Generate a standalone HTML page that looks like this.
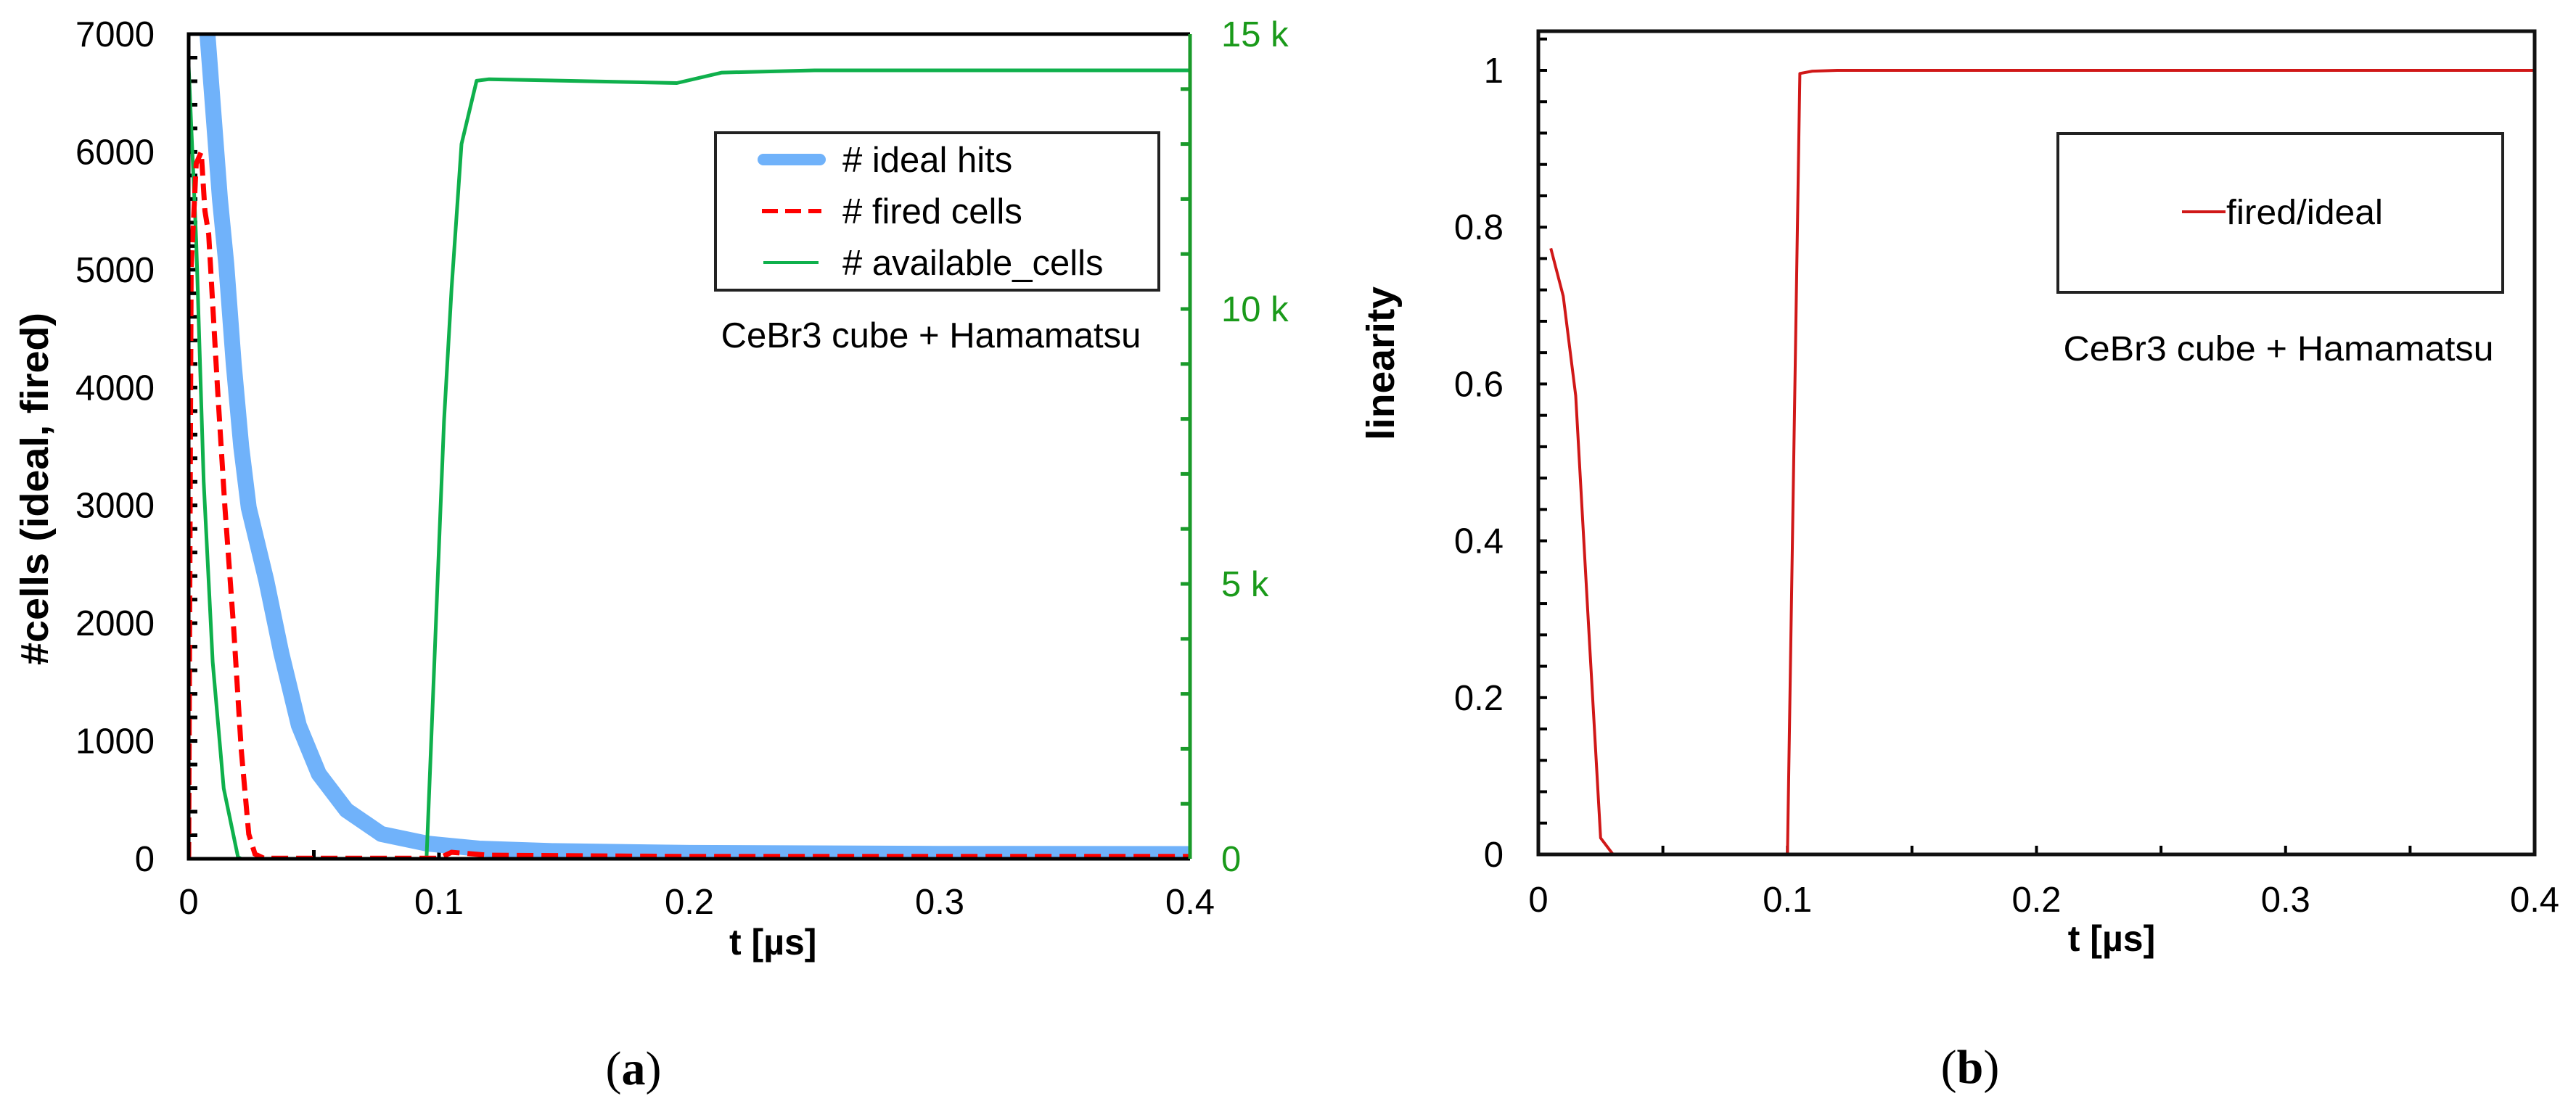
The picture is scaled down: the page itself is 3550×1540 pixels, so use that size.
<!DOCTYPE html>
<html><head><meta charset="utf-8"><style>
html,body{margin:0;padding:0;background:#fff;}
svg{display:block;font-family:"Liberation Sans",Arial,sans-serif;}
</style></head><body>
<svg id="fig" width="3550" height="1540" viewBox="0 0 3550 1540" xmlns="http://www.w3.org/2000/svg">
<defs>
<clipPath id="clipA"><rect x="260" y="47" width="1380" height="1137"/></clipPath>
<clipPath id="clipB"><rect x="2120" y="43" width="1373" height="1135"/></clipPath>
</defs>
<g id="panelA"></g>
<g id="panelB"></g>
</svg>
<script>
// ---- Panel (a) data ----
const idealT = [0, 0.005, 0.0075, 0.01, 0.0125, 0.015, 0.018, 0.021, 0.024, 0.031, 0.037, 0.044, 0.052, 0.063, 0.077, 0.095, 0.116, 0.145, 0.2, 0.3, 0.4];
const idealV = [10000, 8200, 7000, 6300, 5600, 5050, 4200, 3500, 2980, 2364, 1749, 1133, 720, 413, 210, 130, 86, 65, 50, 42, 40];
const firedT = [0, 0.001, 0.003, 0.005, 0.0065, 0.008, 0.0115, 0.0145, 0.018, 0.021, 0.024, 0.0265, 0.03, 0.1, 0.105, 0.12, 0.2, 0.4];
const firedV = [0, 5000, 5900, 6000, 5500, 5300, 4000, 2980, 1950, 930, 210, 40, 5, 5, 55, 30, 20, 20];
const availT = [0, 0.003, 0.006, 0.0096, 0.014, 0.0197, 0.021, 0.095, 0.1006, 0.102, 0.105, 0.109, 0.115, 0.12, 0.195, 0.213, 0.25, 0.4];
const availV = [14420, 11240, 6860, 3580, 1280, 30, 0, 0, 6385, 7960, 10370, 13000, 14150, 14180, 14110, 14300, 14340, 14340];
const xTicksA = [0, 0.1, 0.2, 0.3, 0.4];
const xTickLabelsA = ["0", "0.1", "0.2", "0.3", "0.4"];
const yTicksA = [0, 1000, 2000, 3000, 4000, 5000, 6000, 7000];
const yRightTicks = [0, 5000, 10000, 15000];
const yRightLabels = ["0", "5 k", "10 k", "15 k"];
const legendA = ["# ideal hits", "# fired cells", "# available_cells"];
// ---- Panel (b) data ----
const linT = [0.005, 0.01, 0.015, 0.02, 0.025, 0.03, 0.1, 0.105, 0.11, 0.12, 0.2, 0.3, 0.4];
const linV = [0.773, 0.712, 0.585, 0.3, 0.021, 0, 0, 0.996, 0.999, 1, 1, 1, 1];
const xTicksB = [0, 0.1, 0.2, 0.3, 0.4];
const xTickLabelsB = ["0", "0.1", "0.2", "0.3", "0.4"];
const yTicksB = [0, 0.2, 0.4, 0.6, 0.8, 1];
const yTickLabelsB = ["0", "0.2", "0.4", "0.6", "0.8", "1"];

const NS = "http://www.w3.org/2000/svg";
function mk(parent, tag, attrs, text) {
  const e = document.createElementNS(NS, tag);
  for (const k in attrs) e.setAttribute(k, attrs[k]);
  if (text !== undefined) e.textContent = text;
  parent.appendChild(e);
  return e;
}
const xa = t => 260 + t / 0.4 * 1380;
const ya = v => 1184 - v / 7000 * 1137;
const yg = v => 1184 - v / 15000 * 1137;
const xb = t => 2120 + t / 0.4 * 1373;
const yb = v => 1178 - v * 1081;
function pts(T, V, fx, fy) { return T.map((t, i) => fx(t).toFixed(1) + "," + fy(V[i]).toFixed(1)).join(" "); }

// ================= Panel A =================
const A = document.getElementById("panelA");
let e;
for (let v = 0; v <= 7000; v += 200) {
  e = mk(A, "line", {x1: 260, x2: 272, y1: ya(v), y2: ya(v), stroke: "#000", "stroke-width": 5});
  
  
}
for (let t = 0; t <= 0.4001; t += 0.05) {
  e = mk(A, "line", {x1: xa(t), x2: xa(t), y1: 1184, y2: 1172, stroke: "#000", "stroke-width": 5});
  
  
}
for (let v = 0; v <= 15000; v += 1000) {
  e = mk(A, "line", {x1: 1627, x2: 1640, y1: yg(v), y2: yg(v), stroke: "#1a9a2a", "stroke-width": 5});
  
  
}
const gA = mk(A, "g", {"clip-path": "url(#clipA)"});
e = mk(gA, "polyline", {points: pts(idealT, idealV, xa, ya), fill: "none", stroke: "#70b2fa", "stroke-width": 22, "stroke-linejoin": "round"});


e = mk(gA, "polyline", {points: pts(availT, availV, xa, yg), fill: "none", stroke: "#0fb04c", "stroke-width": 5, "stroke-linejoin": "round"});


e = mk(gA, "polyline", {points: pts(firedT, firedV, xa, ya), fill: "none", stroke: "#ff0000", "stroke-width": 7, "stroke-dasharray": "23 11"});


e = mk(A, "polyline", {points: "1640,47 260,47 260,1184 1640,1184", fill: "none", stroke: "#000", "stroke-width": 5});


e = mk(A, "line", {x1: 1640, x2: 1640, y1: 47, y2: 1184, stroke: "#1a9a2a", "stroke-width": 5});


yTicksA.forEach(v => {
  e = mk(A, "text", {x: 213, y: ya(v) + 17, "font-size": 49, "text-anchor": "end", fill: "#000"}, String(v));
  
  
});
xTicksA.forEach((t, i) => {
  e = mk(A, "text", {x: xa(t), y: 1260, "font-size": 49, "text-anchor": "middle", fill: "#000"}, xTickLabelsA[i]);
  
  
});
yRightTicks.forEach((v, i) => {
  e = mk(A, "text", {x: 1683, y: yg(v) + 17, "font-size": 49, fill: "#1a9a1a"}, yRightLabels[i]);
  
  
});
e = mk(A, "text", {x: 1005, y: 1316, "font-size": 50, "font-weight": "bold", fill: "#000"}, "t [µs]");


e = mk(A, "text", {x: 0, y: 0, "font-size": 54, "font-weight": "bold", fill: "#000", "text-anchor": "middle", textLength: 486, lengthAdjust: "spacingAndGlyphs", transform: "translate(66,674) rotate(-90)"}, "#cells (ideal, fired)");


e = mk(A, "rect", {x: 986, y: 183, width: 611, height: 217, fill: "#fff", stroke: "#222", "stroke-width": 4});


const legY = [220, 291, 362];
e = mk(A, "line", {x1: 1052, x2: 1130, y1: legY[0], y2: legY[0], stroke: "#70b2fa", "stroke-width": 16, "stroke-linecap": "round"});


e = mk(A, "line", {x1: 1050, x2: 1132, y1: legY[1], y2: legY[1], stroke: "#ff0000", "stroke-width": 6, "stroke-dasharray": "22 10"});


e = mk(A, "line", {x1: 1052, x2: 1128, y1: legY[2], y2: legY[2], stroke: "#0fb04c", "stroke-width": 4});


legendA.forEach((s, i) => {
  e = mk(A, "text", {x: 1161, y: legY[i] + 17, "font-size": 49, fill: "#000"}, s);
  
  
});
e = mk(A, "text", {x: 1283, y: 479, "font-size": 49, "text-anchor": "middle", fill: "#000"}, "CeBr3 cube + Hamamatsu");


e = mk(A, "text", {x: 873, y: 1495, "font-size": 66, "text-anchor": "middle", "font-family": "Liberation Serif, serif", fill: "#000"}, "");


mk(e, "tspan", {}, "(");
mk(e, "tspan", {"font-weight": "bold"}, "a");
mk(e, "tspan", {}, ")");

// ================= Panel B =================
const B = document.getElementById("panelB");
for (let k = 0; k <= 26; k++) {
  const v = k * 0.04;
  e = mk(B, "line", {x1: 2120, x2: 2132, y1: yb(v), y2: yb(v), stroke: "#000", "stroke-width": 4});
  
  
}
for (let t = 0; t <= 0.4001; t += 0.05) {
  e = mk(B, "line", {x1: xb(t), x2: xb(t), y1: 1178, y2: 1166, stroke: "#000", "stroke-width": 4});
  
  
}
const gB = mk(B, "g", {"clip-path": "url(#clipB)"});
e = mk(gB, "polyline", {points: pts(linT, linV, xb, yb), fill: "none", stroke: "#d01818", "stroke-width": 4, "stroke-linejoin": "round"});


e = mk(B, "rect", {x: 2120, y: 43, width: 1373, height: 1135, fill: "none", stroke: "#111", "stroke-width": 5});


yTicksB.forEach((v, i) => {
  e = mk(B, "text", {x: 2072, y: yb(v) + 17, "font-size": 49, "text-anchor": "end", fill: "#000"}, yTickLabelsB[i]);
  
  
});
xTicksB.forEach((t, i) => {
  e = mk(B, "text", {x: xb(t), y: 1257, "font-size": 49, "text-anchor": "middle", fill: "#000"}, xTickLabelsB[i]);
  
  
});
e = mk(B, "text", {x: 2910, y: 1311, "font-size": 50, "font-weight": "bold", "text-anchor": "middle", fill: "#000"}, "t [µs]");


e = mk(B, "text", {x: 0, y: 0, "font-size": 54, "font-weight": "bold", "text-anchor": "middle", textLength: 212, lengthAdjust: "spacingAndGlyphs", fill: "#000", transform: "translate(1921,501) rotate(-90)"}, "linearity");


e = mk(B, "rect", {x: 2836, y: 184, width: 613, height: 219, fill: "#fff", stroke: "#222", "stroke-width": 4});


e = mk(B, "line", {x1: 3007, x2: 3067, y1: 292, y2: 292, stroke: "#d01818", "stroke-width": 4});


e = mk(B, "text", {x: 3068, y: 309, "font-size": 48, fill: "#000", textLength: 216, lengthAdjust: "spacingAndGlyphs"}, "fired/ideal");


e = mk(B, "text", {x: 3140, y: 497, "font-size": 48, "text-anchor": "middle", fill: "#000", textLength: 593, lengthAdjust: "spacingAndGlyphs"}, "CeBr3 cube + Hamamatsu");


e = mk(B, "text", {x: 2715, y: 1493, "font-size": 66, "text-anchor": "middle", "font-family": "Liberation Serif, serif", fill: "#000"}, "");


mk(e, "tspan", {}, "(");
mk(e, "tspan", {"font-weight": "bold"}, "b");
mk(e, "tspan", {}, ")");
</script>
</body></html>
